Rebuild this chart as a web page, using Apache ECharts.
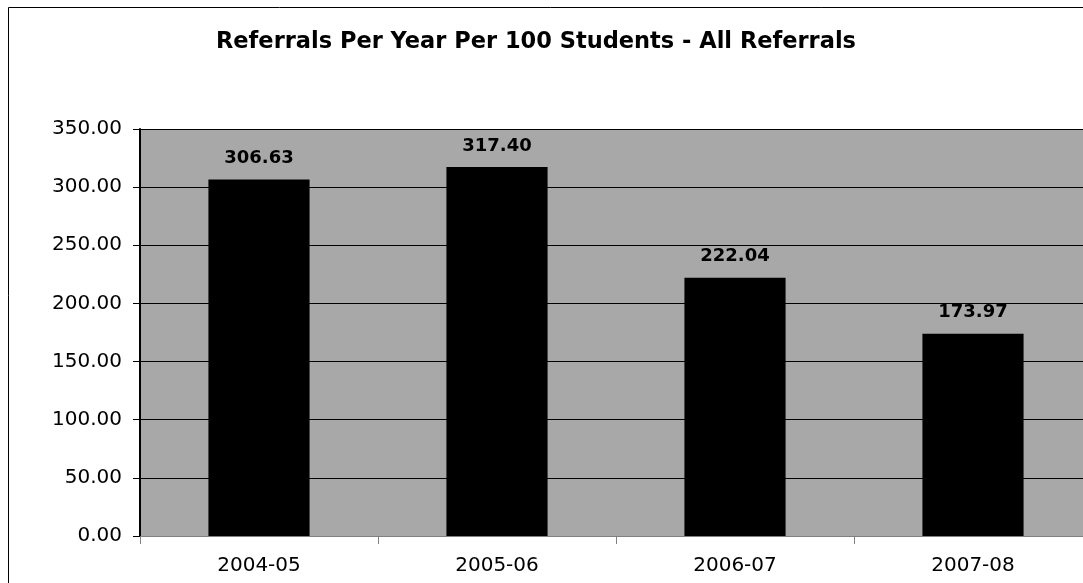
<!DOCTYPE html>
<html>
<head>
<meta charset="utf-8">
<script src="https://cdn.jsdelivr.net/npm/echarts@6/dist/echarts.min.js"></script>
<style>
  html, body { margin: 0; padding: 0; background: #fff; overflow: hidden; }
  /* the plot area runs a little past the right edge of the window */
  #chart { width: 1092px; height: 583px; }
</style>
</head>
<body>
<div id="chart"></div>
<script>
// School years and referrals per 100 students
const years = ['2004-05', '2005-06', '2006-07', '2007-08'];
const referralsPer100 = [306.63, 317.40, 222.04, 173.97];
const titleText = 'Referrals Per Year Per 100 Students - All Referrals';

const chart = echarts.init(document.getElementById('chart'));
const font = '"DejaVu Sans", Verdana, sans-serif';

chart.setOption({
  animation: false,
  backgroundColor: '#ffffff',
  title: {
    text: titleText,
    left: 531,
    textAlign: 'center',
    top: 26,
    textStyle: { fontFamily: font, fontWeight: 'bold', fontSize: 22.5, color: '#000' }
  },
  graphic: [{
    type: 'rect',
    shape: { x: 8.5, y: 7.5, width: 1200, height: 700 },
    style: { fill: 'none', stroke: '#000', lineWidth: 1 },
    silent: true
  }],
  grid: {
    left: 140, top: 129, right: 0, bottom: 47,
    show: true,
    backgroundColor: '#a8a8a8',
    borderWidth: 0
  },
  xAxis: {
    type: 'category',
    data: years,
    axisLine: { lineStyle: { color: '#808080', width: 1 } },
    axisTick: { show: true, length: 8, lineStyle: { color: '#808080' } },
    axisLabel: { fontFamily: font, fontSize: 20, color: '#000', margin: 20 }
  },
  yAxis: {
    type: 'value',
    min: 0, max: 350, interval: 50,
    axisLine: { show: true, lineStyle: { color: '#000', width: 2 } },
    axisTick: { show: true, length: 7, lineStyle: { color: '#000' } },
    axisLabel: {
      fontFamily: font, fontSize: 20, color: '#000', margin: 18,
      formatter: v => v.toFixed(2)
    },
    splitLine: { show: true, lineStyle: { color: '#000', width: 1 } }
  },
  series: [{
    type: 'bar',
    data: referralsPer100,
    barWidth: '42.5%',
    itemStyle: { color: '#000' },
    label: {
      show: true,
      position: 'top',
      distance: 12,
      fontFamily: font,
      fontWeight: 'bold',
      fontSize: 18,
      color: '#000',
      formatter: p => p.value.toFixed(2)
    }
  }]
});
</script>
</body>
</html>
